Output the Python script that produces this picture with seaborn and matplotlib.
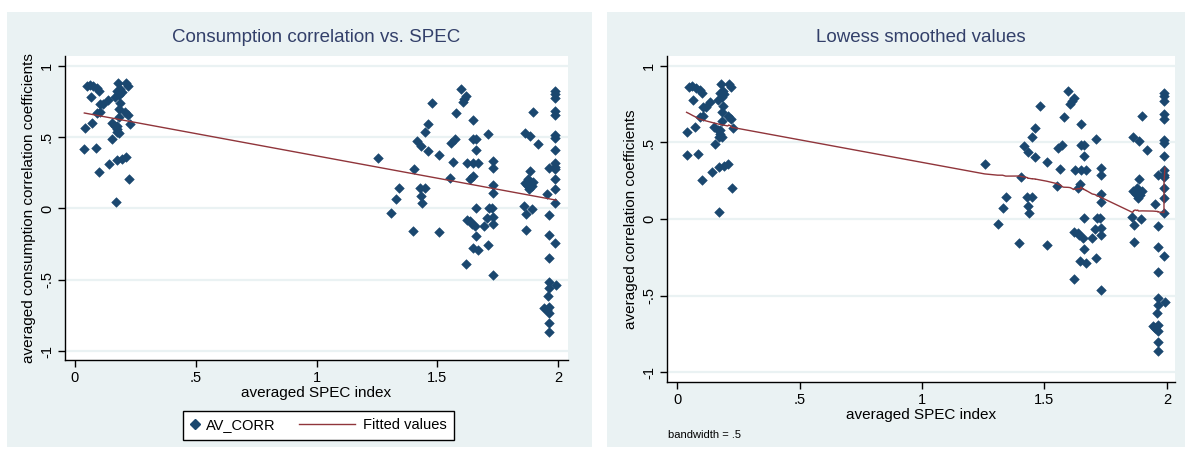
import numpy as np
import pandas as pd
import matplotlib
matplotlib.use("Agg")
import matplotlib.pyplot as plt
import seaborn as sns
from matplotlib.patches import Rectangle
from matplotlib.lines import Line2D
from matplotlib.legend_handler import HandlerLine2D

# ---------------- data ----------------
spec_low = [0.048, 0.062, 0.076, 0.092, 0.100, 0.065, 0.104, 0.117, 0.135, 0.104,
            0.092, 0.041, 0.072, 0.039, 0.086, 0.100, 0.141, 0.155, 0.170, 0.173,
            0.193, 0.210, 0.225, 0.179, 0.211, 0.221, 0.186, 0.175, 0.193, 0.183,
            0.166, 0.186, 0.182, 0.207, 0.221, 0.228, 0.152, 0.166, 0.175, 0.183,
            0.175, 0.183, 0.173]
corr_low = [0.861, 0.866, 0.857, 0.843, 0.826, 0.780, 0.732, 0.732, 0.763, 0.674,
            0.669, 0.568, 0.603, 0.420, 0.427, 0.258, 0.310, 0.490, 0.047, 0.338,
            0.345, 0.361, 0.204, 0.880, 0.880, 0.861, 0.838, 0.826, 0.815, 0.796,
            0.780, 0.739, 0.697, 0.674, 0.655, 0.592, 0.599, 0.580, 0.580, 0.639,
            0.556, 0.533, 0.537]

spec_mid = [1.256, 1.309, 1.329, 1.342, 1.398, 1.404, 1.415, 1.433, 1.429, 1.449,
            1.433, 1.438, 1.449, 1.463, 1.463, 1.480, 1.509, 1.509]
corr_mid = [0.357, -0.030, 0.070, 0.141, -0.160, 0.275, 0.474, 0.439, 0.141, 0.141,
            0.087, 0.040, 0.537, 0.592, 0.404, 0.737, 0.373, -0.167]

spec_high = [1.553, 1.557, 1.564, 1.573, 1.578, 1.597, 1.605, 1.612, 1.619, 1.619,
             1.624, 1.622, 1.636, 1.647, 1.649, 1.649, 1.660, 1.649, 1.660, 1.670,
             1.660, 1.656, 1.643, 1.647, 1.670, 1.660, 1.636, 1.695, 1.711, 1.716,
             1.707, 1.711, 1.730, 1.732, 1.730, 1.730, 1.725, 1.730, 1.730, 1.732]
corr_high = [0.216, 0.463, 0.329, 0.486, 0.667, 0.838, 0.749, 0.768, 0.791, -0.389,
             0.322, -0.082, 0.204, 0.227, 0.622, 0.486, 0.486, 0.322, 0.410, 0.322,
             0.005, -0.125, -0.106, -0.277, -0.289, -0.195, -0.089, -0.125, 0.521, 0.005,
             -0.066, -0.258, 0.333, 0.286, 0.162, 0.110, 0.005, -0.061, -0.106, -0.465]

spec_top = [1.863, 1.884, 1.898, 1.918, 1.859, 1.867, 1.867, 1.894, 1.863, 1.877,
            1.884, 1.891, 1.881, 1.898, 1.873, 1.953, 1.963, 1.963, 1.963, 1.963,
            1.963, 1.963, 1.960, 1.943, 1.953, 1.963, 1.963, 1.963, 1.963,
            1.988, 1.987, 1.988, 1.987, 1.988, 1.988, 1.987, 1.988, 1.988, 1.987,
            1.988, 1.988, 1.987, 1.988, 1.992, 1.988]
corr_top = [0.533, 0.509, 0.674, 0.451, 0.016, -0.042, -0.148, -0.002, 0.181, 0.204,
            0.263, 0.157, 0.134, 0.185, 0.162, 0.099, 0.287, -0.047, -0.183, -0.347,
            -0.516, -0.560, -0.617, -0.700, -0.710, -0.690, -0.735, -0.805, -0.864,
            0.826, 0.802, 0.772, 0.685, 0.655, 0.514, 0.498, 0.410, 0.322, 0.275,
            0.204, 0.134, 0.040, -0.242, -0.540, 0.290]

x_ticks = [0, 0.5, 1, 1.5, 2]
x_tick_labels = ["0", ".5", "1", "1.5", "2"]
y_ticks = [-1, -0.5, 0, 0.5, 1]
y_tick_labels = ["-1", "-.5", "0", ".5", "1"]
bandwidth = 0.5

# ---------------- assemble ----------------
spec = spec_low + spec_mid + spec_high + spec_top
corr = corr_low + corr_mid + corr_high + corr_top
assert len(spec) == len(corr)
df = pd.DataFrame({"SPEC": spec, "AV_CORR": corr})


def stata_lowess(x, y, bw):
    order = np.argsort(x, kind="stable")
    xs = np.asarray(x, float)[order]
    ys = np.asarray(y, float)[order]
    n = len(xs)
    k = int(np.floor((n * bw - 0.5) / 2))
    fit = np.empty(n)
    for i in range(n):
        lo, hi = max(0, i - k), min(n - 1, i + k)
        xw, yw = xs[lo:hi + 1], ys[lo:hi + 1]
        delta = 1.0001 * max(xs[i] - xs[lo], xs[hi] - xs[i])
        if delta <= 0:
            fit[i] = yw.mean()
            continue
        u = np.abs(xw - xs[i]) / delta
        w = (1 - u ** 3) ** 3
        w[u >= 1] = 0
        sw = w.sum()
        xm = (w * xw).sum() / sw
        ym = (w * yw).sum() / sw
        sxx = (w * (xw - xm) ** 2).sum()
        if sxx <= 1e-12:
            fit[i] = ym
        else:
            b = (w * (xw - xm) * (yw - ym)).sum() / sxx
            fit[i] = ym + b * (xs[i] - xm)
    return xs, fit


lx, ly = stata_lowess(df["SPEC"].values, df["AV_CORR"].values, bandwidth)
low_df = pd.DataFrame({"SPEC": lx, "fit": ly})

# ---------------- styling ----------------
plt.rcParams["font.family"] = ["Liberation Sans", "DejaVu Sans"]
NAVY = "#1A476F"
MAROON = "#90353B"
PANEL = "#EAF2F3"
TITLE_C = "#33406A"

W, H = 1187, 449
fig = plt.figure(figsize=(W / 100, H / 100), dpi=100)
fig.patch.set_facecolor("white")

# panel backgrounds
fig.patches.append(Rectangle((7 / W, 2 / H), 585 / W, 435 / H, transform=fig.transFigure,
                             facecolor=PANEL, edgecolor="none", zorder=-10))
fig.patches.append(Rectangle((607 / W, 2 / H), 578 / W, 435 / H, transform=fig.transFigure,
                             facecolor=PANEL, edgecolor="none", zorder=-10))

ax1 = fig.add_axes([65 / W, (H - 360) / H, 503 / W, 304 / H])
ax2 = fig.add_axes([667 / W, (H - 382) / H, 508 / W, 326 / H])


def style(ax, xlim, ylim, ylabel, title):
    ax.set_facecolor("white")
    ax.set_xlim(*xlim)
    ax.set_ylim(*ylim)
    for y in y_ticks:
        ax.axhline(y, color=PANEL, lw=1.6, zorder=0)
    ax.set_xticks(x_ticks)
    ax.set_xticklabels(x_tick_labels, fontsize=10.5)
    ax.set_yticks(y_ticks)
    ax.set_yticklabels(y_tick_labels, fontsize=10.5, rotation=90, va="center")
    ax.tick_params(direction="out", length=5, width=1, color="black", pad=3)
    for s in ["top", "right"]:
        ax.spines[s].set_visible(False)
    for s in ["left", "bottom"]:
        ax.spines[s].set_color("black")
        ax.spines[s].set_linewidth(1.0)
    ax.set_xlabel("averaged SPEC index", fontsize=11, labelpad=1)
    ax.set_ylabel(ylabel, fontsize=11, labelpad=3)
    ax.set_title(title, fontsize=13.5, color=TITLE_C, pad=10)


# left panel
sns.scatterplot(data=df, x="SPEC", y="AV_CORR", ax=ax1, marker="D", s=24,
                color=NAVY, edgecolor=NAVY, linewidth=0.4, zorder=3, legend=False)
sns.regplot(data=df, x="SPEC", y="AV_CORR", ax=ax1, scatter=False, ci=None,
            color=MAROON, line_kws={"lw": 1.0, "zorder": 4})
style(ax1, (-0.041, 2.041), (-1.063, 1.07),
      "averaged consumption correlation coefficients",
      "Consumption correlation vs. SPEC")

# right panel
sns.scatterplot(data=df, x="SPEC", y="AV_CORR", ax=ax2, marker="D", s=24,
                color=NAVY, edgecolor=NAVY, linewidth=0.4, zorder=3, legend=False)
sns.lineplot(data=low_df, x="SPEC", y="fit", ax=ax2, sort=False, estimator=None,
             color=MAROON, lw=1.0, zorder=4)
style(ax2, (-0.041, 2.033), (-1.065, 1.065),
      "averaged correlation coefficients", "Lowess smoothed values")


# legend for left panel
class MarkerAt(HandlerLine2D):
    def __init__(self, frac, **kw):
        super().__init__(**kw)
        self.frac = frac

    def create_artists(self, legend, orig_handle, xdescent, ydescent, width,
                       height, fontsize, trans):
        y = height / 2 - ydescent
        art = Line2D([self.frac * width - xdescent], [y])
        self.update_prop(art, orig_handle, legend)
        art.set_transform(trans)
        return [art]


class LineSpan(HandlerLine2D):
    def __init__(self, f0, f1, **kw):
        super().__init__(**kw)
        self.f0, self.f1 = f0, f1

    def create_artists(self, legend, orig_handle, xdescent, ydescent, width,
                       height, fontsize, trans):
        y = height / 2 - ydescent
        art = Line2D([self.f0 * width - xdescent, self.f1 * width - xdescent], [y, y])
        self.update_prop(art, orig_handle, legend)
        art.set_transform(trans)
        return [art]


h_mark = Line2D([], [], marker="D", ls="none", color=NAVY, markersize=4.8)
h_line = Line2D([], [], color=MAROON, lw=1.0)
leg = fig.legend([h_mark, h_line], ["AV_CORR", "Fitted values"], loc="upper left",
                 bbox_to_anchor=(183 / W, (H - 411) / H), ncol=2, fontsize=10.5,
                 frameon=True, fancybox=False, edgecolor="black", facecolor="white",
                 framealpha=1, handlelength=1.0, columnspacing=4.87, handletextpad=0.1,
                 borderpad=0.5, borderaxespad=0,
                 handler_map={h_mark: MarkerAt(0.3), h_line: LineSpan(-3.3, 0.55)})
leg.get_frame().set_linewidth(1.0)

fig.text(668 / W, (H - 435) / H, "bandwidth = .5", fontsize=8, va="center", ha="left")

fig.savefig("out.png", dpi=100, facecolor="white")
